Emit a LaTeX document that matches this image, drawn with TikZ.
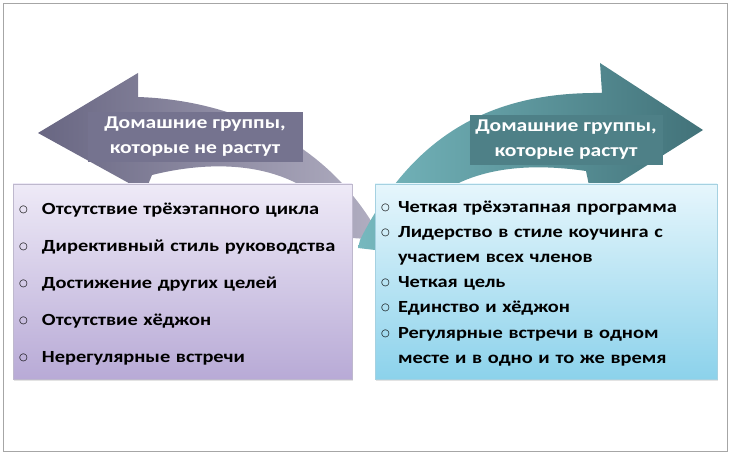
\documentclass[tikz,border=0pt]{standalone}
\usepackage{fontspec}
\setmainfont{Carlito}[FakeStretch=1.2]
\newfontfamily\symfont{DejaVu Sans}
\usetikzlibrary{shadows}
\definecolor{slatedark}{RGB}{104,102,130}
\definecolor{slatelight}{RGB}{178,175,194}
\definecolor{slatelabel}{RGB}{117,115,143}
\definecolor{tealdark}{RGB}{66,114,121}
\definecolor{teallight}{RGB}{118,184,190}
\definecolor{teallabel}{RGB}{78,128,135}
\definecolor{lilactop}{RGB}{238,234,247}
\definecolor{lilacbot}{RGB}{184,170,214}
\definecolor{skytop}{RGB}{230,246,252}
\definecolor{skybot}{RGB}{140,210,235}
\newlength{\bltw}
\newcommand{\blt}{\makebox[\bltw][l]{\raisebox{2pt}{\symfont\fontsize{10}{10}\selectfont ○}}}
\newcommand{\itm}[1]{\par\noindent\hangindent=\bltw\hangafter=1\blt #1}
\newcommand{\lift}[1]{\par\vskip #1\nointerlineskip\hbox{}}

\begin{document}
\begin{tikzpicture}[x=1pt,y=-1pt,
  labelbox/.style={inner sep=0pt, text=white, align=center,
    font=\bfseries\fontsize{18}{25}\selectfont},
  listbox/.style={inner xsep=6pt, inner ysep=0pt, align=left, anchor=center,
    font=\bfseries\fontsize{17}{25.2}\selectfont, line width=0.6pt,
    drop shadow={opacity=0.22, shadow xshift=1pt, shadow yshift=-2pt}}]
\useasboundingbox (0,0) rectangle (733,457);
\draw [gray!70, line width=0.8pt] (3,3) rectangle (727,451);

\shade [left color=slatedark, right color=slatelight]
  (38,133) -- (138,73) -- (138,97) .. controls (230,100) and (330,140) .. (382,240)
  -- (352,238) .. controls (310,160) and (220,158) .. (152,175) -- (145,192) -- cycle;
\shade [left color=teallight, right color=tealdark]
  (358,248) -- (360,240) .. controls (420,120) and (510,92) .. (602,93) -- (600,63)
  -- (703,130) -- (592,200) -- (586,171) .. controls (510,160) and (430,170) .. (392,252) -- cycle;

\node [labelbox, fill=slatelabel, minimum width=215, minimum height=50] (badlbl) at (195,137)
  {Домашние группы,\\которые не растут};
\node [labelbox, fill=teallabel, minimum width=193, minimum height=50] (goodlbl) at (566,140)
  {Домашние группы,\\которые растут};

\node [listbox, top color=lilactop, bottom color=lilacbot, draw=lilacbot!80!black!60,
  minimum width=339, minimum height=195, text width=327pt] (badlist) at (182.5,281.5)
  {\setlength{\bltw}{23pt}%
   \itm{Отсутствие трёхэтапного цикла}
   \setlength{\parskip}{11.8pt}%
   \itm{Директивный стиль руководства}
   \itm{Достижение других целей}
   \itm{Отсутствие хёджон}
   \itm{Нерегулярные встречи}\lift{8pt}};
\node [listbox, top color=skytop, bottom color=skybot, draw=skybot!90!black!70,
  minimum width=342, minimum height=195, text width=330pt] (goodlist) at (546,281.5)
  {\setlength{\bltw}{17pt}%
   \itm{Четкая трёхэтапная программа}
   \itm{Лидерство в стиле коучинга с\newline участием всех членов}
   \itm{Четкая цель}
   \itm{Единство и хёджон}
   \itm{Регулярные встречи в одном\newline месте и в одно и то же время}\lift{10pt}};
\end{tikzpicture}
\end{document}
